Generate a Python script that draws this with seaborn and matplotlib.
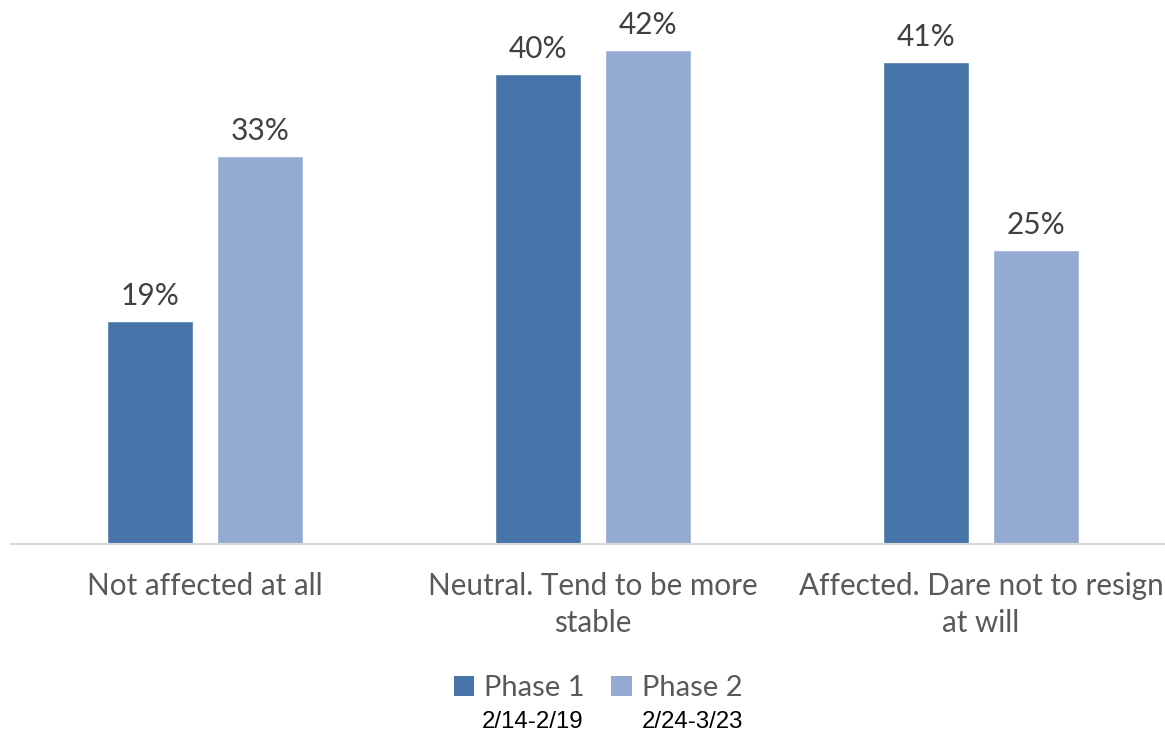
import matplotlib
matplotlib.use("Agg")
import matplotlib.pyplot as plt
from matplotlib.patches import Patch
import pandas as pd
import seaborn as sns

categories = [
    "Not affected at all",
    "Neutral. Tend to be more\nstable",
    "Affected. Dare not to resign\nat will",
]
phases = ["Phase 1", "Phase 2"]
phase_dates = ["2/14-2/19", "2/24-3/23"]
phase1_values = [19, 40, 41]
phase2_values = [33, 42, 25]

colors = ["#4674A9", "#95AAD1"]
text_gray = "#595959"

df = pd.DataFrame({
    "category": categories * 2,
    "phase": [phases[0]] * 3 + [phases[1]] * 3,
    "value": phase1_values + phase2_values,
})

sns.set_theme(style="white")
plt.rcParams["font.family"] = ["Lato", "DejaVu Sans"]

W, H = 1165, 736
fig = plt.figure(figsize=(W / 100, H / 100), dpi=100)
base_y = 544
top_y = 15
ax = fig.add_axes([11 / W, (H - base_y) / H, 1164 / W, (base_y - top_y) / H])

sns.barplot(data=df, x="category", y="value", hue="phase", palette=colors,
            width=0.57, gap=0.22, ax=ax, legend=False, saturation=1)

ax.set_ylim(0, 45)
ax.set_xlim(-0.5, 2.5)
ax.set_xlabel("")
ax.set_ylabel("")
ax.set_yticks([])
for s in ["top", "right", "left"]:
    ax.spines[s].set_visible(False)
ax.spines["bottom"].set_color("#d9d9d9")
ax.spines["bottom"].set_linewidth(1.5)

ax.set_xticks(range(3))
ax.set_xticklabels(categories, fontsize=21.3, color=text_gray, linespacing=1.42)
ax.tick_params(axis="x", which="major", length=0, pad=20)
ax.set_xticks([-0.5, 0.5, 1.5, 2.5], minor=True)
ax.tick_params(axis="x", which="minor", length=8, width=1.5, color="#d9d9d9")

for cont in ax.containers:
    ax.bar_label(cont, labels=[f"{v:.0f}%" for v in cont.datavalues],
                 fontsize=21.5, color="#404040", padding=8)

handles = [Patch(facecolor=c, edgecolor="none") for c in colors]
fig.legend(handles, phases, loc="center", bbox_to_anchor=(598 / W, 1 - 688 / H),
           ncol=2, frameon=False, fontsize=21, labelcolor=text_gray,
           handlelength=0.7, handleheight=0.7, handletextpad=0.35,
           columnspacing=0.9)

for x, label in zip([533, 692], phase_dates):
    fig.text(x / W, 1 - 722 / H, label, ha="center", va="center",
             fontsize=17.3, color="black", family=["Liberation Sans", "DejaVu Sans"])

fig.savefig("out.png", dpi=100)
